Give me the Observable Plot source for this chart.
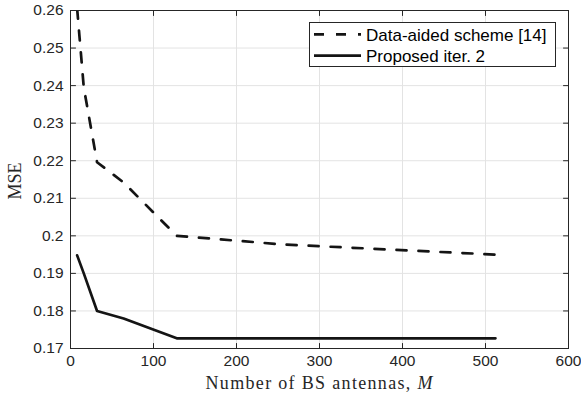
<!DOCTYPE html>
<html><head><meta charset="utf-8">
<script src="https://cdn.jsdelivr.net/npm/d3@7"></script>
<script src="https://cdn.jsdelivr.net/npm/@observablehq/plot@0.6"></script>
<style>body{margin:0;background:#fff} #chart svg{display:block}</style>
</head><body><div id="chart"></div>
<script>
// Data
const antennas = [8, 16, 32, 64, 128, 256, 512];
const dataAided = [0.2605, 0.2395, 0.2196, 0.2142, 0.2, 0.1977, 0.195];
const proposed = [0.1948, 0.19, 0.18, 0.178, 0.1727, 0.1727, 0.1727];
const seriesNames = ["Data-aided scheme [14]", "Proposed iter. 2"];
const xTicks = [0, 100, 200, 300, 400, 500, 600];
const yTicks = [0.17, 0.18, 0.19, 0.2, 0.21, 0.22, 0.23, 0.24, 0.25, 0.26];
const xLabel = "Number of BS antennas, ";
const xLabelVar = "M";
const yLabel = "MSE";

const axisColor = "#262626";
const lineColor = "#141414";
const dash = "10,12";

const rowsA = antennas.map((m, i) => ({m, mse: dataAided[i]}));
const rowsP = antennas.map((m, i) => ({m, mse: proposed[i]}));

const tickShape = {draw(ctx, l) { ctx.moveTo(0, 0); ctx.lineTo(0, -l); }};
const tickOpts = {length: 5, anchor: "start", shape: tickShape, stroke: axisColor, strokeWidth: 1};

const svg = Plot.plot({
  width: 581, height: 395,
  marginLeft: 70, marginRight: 13, marginTop: 10, marginBottom: 47,
  x: {domain: [0, 600]},
  y: {domain: [0.17, 0.26]},
  style: {fontFamily: "'Liberation Sans', Arial, sans-serif", fontSize: "15.5px", color: axisColor, background: "#fff"},
  marks: [
    Plot.gridX(xTicks, {stroke: "#e3e3e3", strokeOpacity: 1, strokeWidth: 1}),
    Plot.gridY(yTicks, {stroke: "#e3e3e3", strokeOpacity: 1, strokeWidth: 1}),
    Plot.line(rowsA, {x: "m", y: "mse", stroke: lineColor, strokeWidth: 2.7, strokeDasharray: dash, clip: true}),
    Plot.line(rowsP, {x: "m", y: "mse", stroke: lineColor, strokeWidth: 2.7, clip: true}),
    Plot.frame({stroke: axisColor, strokeWidth: 1}),
    Plot.vector(xTicks, {x: d => d, frameAnchor: "bottom", rotate: 0, ...tickOpts}),
    Plot.vector(xTicks, {x: d => d, frameAnchor: "top", rotate: 180, ...tickOpts}),
    Plot.vector(yTicks, {y: d => d, frameAnchor: "left", rotate: 90, ...tickOpts}),
    Plot.vector(yTicks, {y: d => d, frameAnchor: "right", rotate: -90, ...tickOpts}),
    Plot.axisX(xTicks, {tickSize: 0, tickPadding: 6.5, label: null, fill: axisColor}),
    Plot.axisY(yTicks, {tickSize: 0, tickPadding: 7, label: null, fill: axisColor, tickFormat: d => String(d)})
  ]
});
document.getElementById("chart").appendChild(svg);

const s = d3.select(svg);
// Axis titles
const xt = s.append("text")
  .attr("x", 319).attr("y", 389)
  .attr("text-anchor", "middle")
  .attr("font-family", "'Liberation Serif', 'Times New Roman', serif")
  .attr("font-size", 18).attr("fill", axisColor)
  .attr("textLength", 227).attr("lengthAdjust", "spacing");
xt.append("tspan").text(xLabel);
xt.append("tspan").attr("font-style", "italic").text(xLabelVar);

s.append("text")
  .attr("transform", "translate(21,181) rotate(-90)")
  .attr("text-anchor", "middle")
  .attr("font-family", "'Liberation Serif', 'Times New Roman', serif")
  .attr("font-size", 18).attr("fill", axisColor)
  .text(yLabel);

// Legend
const lg = s.append("g");
lg.append("rect").attr("x", 309.5).attr("y", 22.5).attr("width", 246).attr("height", 44)
  .attr("fill", "#fff").attr("stroke", axisColor).attr("stroke-width", 1);
const rowsY = [34.3, 55.7];
const dashes = [dash, null];
seriesNames.forEach((name, i) => {
  lg.append("line").attr("x1", 314).attr("x2", 361).attr("y1", rowsY[i]).attr("y2", rowsY[i])
    .attr("stroke", lineColor).attr("stroke-width", 2.7)
    .attr("stroke-dasharray", dashes[i]);
  lg.append("text").attr("x", 366).attr("y", rowsY[i] + 6.5)
    .attr("text-anchor", "start")
    .attr("font-family", "'Liberation Sans', Arial, sans-serif")
    .attr("font-size", 17).attr("fill", "#000")
    .text(name);
});
</script>
</body></html>
